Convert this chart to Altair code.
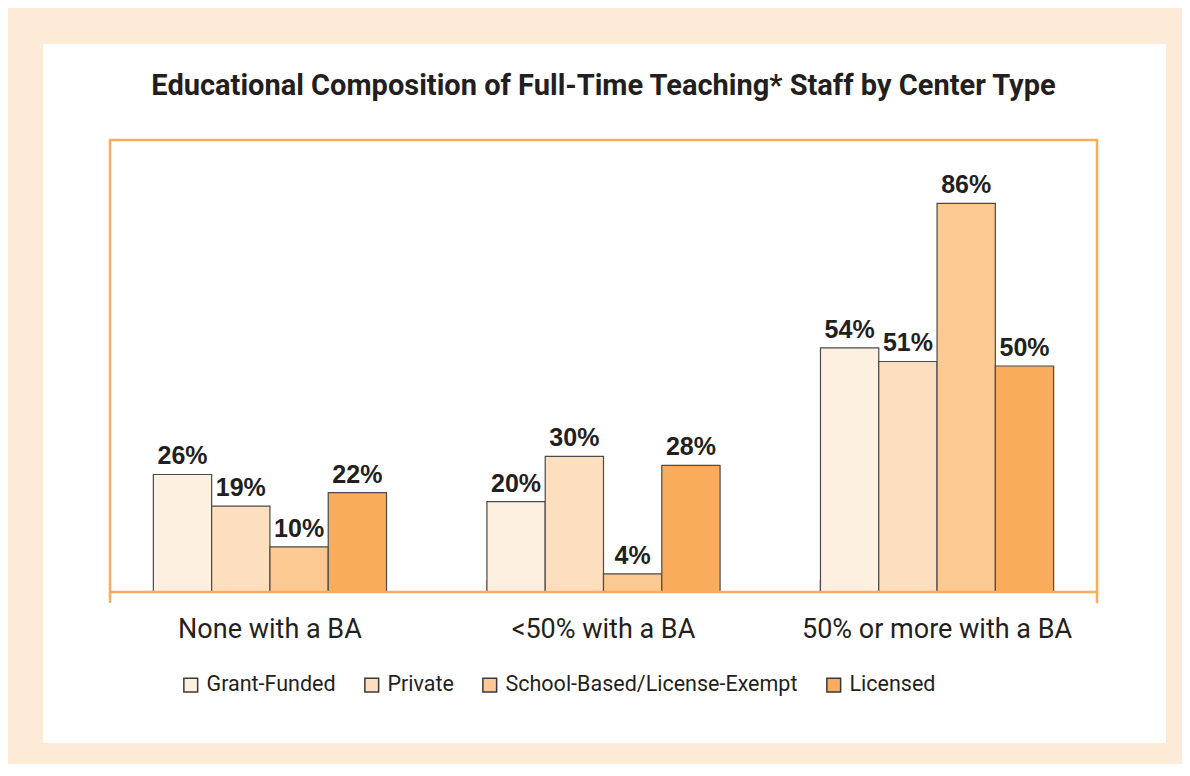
import altair as alt
import pandas as pd

categories = ["None with a BA", "<50% with a BA", "50% or more with a BA"]
series = ["Grant-Funded", "Private", "School-Based/License-Exempt", "Licensed"]
grant_funded = [26, 20, 54]
private = [19, 30, 51]
school_based = [10, 4, 86]
licensed = [22, 28, 50]
colors = ["#FEF0E1", "#FDDFBF", "#FBC991", "#F9AD5C"]

title_text = "Educational Composition of Full-Time Teaching* Staff by Center Type"

rows = []
for s, vals in zip(series, [grant_funded, private, school_based, licensed]):
    for c, v in zip(categories, vals):
        rows.append({"category": c, "series": s, "value": v, "label": f"{v}%"})
df = pd.DataFrame(rows)
ticks_df = pd.DataFrame({"category": categories[1:]})
one = pd.DataFrame({"a": [0]})

W, H = 987, 452
ORANGE = "#F9AD5C"
DARK = "#231F20"

x_scale = alt.Scale(domain=categories, paddingInner=0.301, paddingOuter=0.13)
x_axis = alt.Axis(title=None, domain=False, ticks=False, labelPadding=24, zindex=2,
                  labelLimit=0, labelFont="Roboto", labelFontSize=27,
                  labelColor=DARK, labelAngle=0)

panel = alt.Chart(one).mark_rect(color="white").encode(
    x=alt.value(-67), x2=alt.value(1056), y=alt.value(-96), y2=alt.value(603))

frame = alt.Chart(one).mark_rect(fillOpacity=0, stroke=ORANGE, strokeWidth=2.5).encode(
    x=alt.value(0), x2=alt.value(W), y=alt.value(0), y2=alt.value(H))

ext_left = alt.Chart(one).mark_rule(color=ORANGE, strokeWidth=2.5).encode(
    x=alt.value(0), y=alt.value(H), y2=alt.value(H + 11))
ext_right = alt.Chart(one).mark_rule(color=ORANGE, strokeWidth=2.5).encode(
    x=alt.value(W), y=alt.value(H), y2=alt.value(H + 11))

inner_ticks = alt.Chart(ticks_df).mark_rule(color=ORANGE, strokeWidth=2).encode(
    x=alt.X("category:N", bandPosition=0, scale=x_scale, axis=x_axis, sort=categories),
    y=alt.value(H - 12), y2=alt.value(H))

bars = alt.Chart(df).mark_bar(stroke="#4a4a4a", strokeWidth=1.2).encode(
    x=alt.X("category:N", scale=x_scale, axis=x_axis, sort=categories),
    xOffset=alt.XOffset("series:N", sort=series),
    y=alt.Y("value:Q", scale=alt.Scale(domain=[0, 100]), axis=None),
    fill=alt.Fill("series:N", sort=series,
                  scale=alt.Scale(domain=series, range=colors),
                  legend=alt.Legend(orient="none", legendX=70, legendY=534,
                                    direction="horizontal", title=None,
                                    symbolType="square", symbolSize=190,
                                    symbolStrokeColor="#3a3a3a", symbolStrokeWidth=1.5,
                                    symbolOpacity=1,
                                    labelFont="Roboto", labelFontSize=21.5,
                                    labelColor=DARK, labelLimit=0,
                                    labelOffset=5, columnPadding=25, columns=4)),
)

labels = alt.Chart(df).mark_text(baseline="alphabetic", dy=-10, font="Liberation Sans",
                                 fontWeight="bold", fontSize=25, color=DARK).encode(
    x=alt.X("category:N", scale=x_scale, axis=x_axis, sort=categories),
    xOffset=alt.XOffset("series:N", sort=series),
    y=alt.Y("value:Q", scale=alt.Scale(domain=[0, 100]), axis=None),
    text="label:N",
)

chart = alt.layer(panel, inner_ticks, ext_left, ext_right, bars, labels, frame).properties(
    width=W, height=H,
    title=alt.Title(title_text, font="Roboto", fontSize=29,
                    fontWeight="bold", color=DARK, anchor="middle", frame="group",
                    baseline="alphabetic", offset=-80),
    autosize=alt.AutoSizeParams(type="none"),
    padding={"left": 102, "top": 132, "right": 85, "bottom": 172},
    background="#FDEBD8",
).configure_view(stroke=None)

chart.save("out.html", embed_options={"renderer": "svg", "actions": False})
